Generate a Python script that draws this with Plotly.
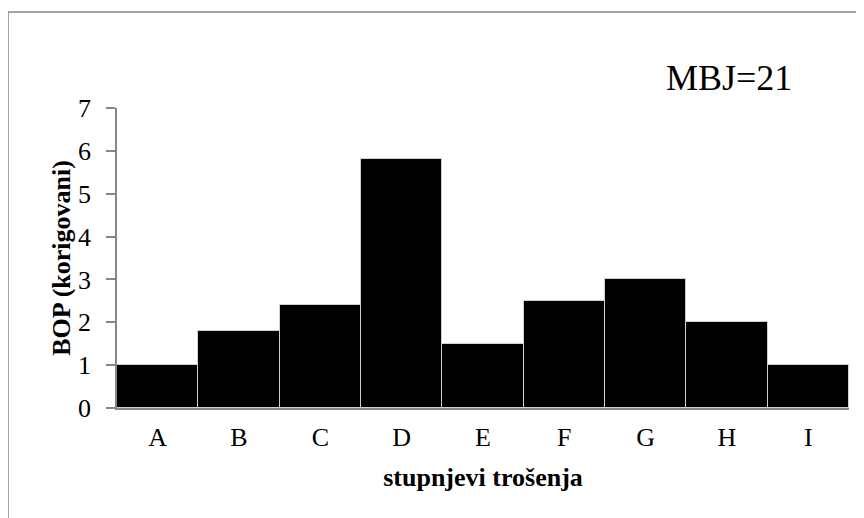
import plotly.graph_objects as go

categories = ["A", "B", "C", "D", "E", "F", "G", "H", "I"]
values = [1.0, 1.8, 2.4, 5.8, 1.5, 2.5, 3.0, 2.0, 1.0]
y_ticks = [0, 1, 2, 3, 4, 5, 6, 7]

# page body has an 8px margin; work in figure coordinates = screen - 8
OFF = 8
W, H = 864 - OFF, 518 - OFF
L, R, T, B = 117 - OFF, 15, 108 - OFF, 110
pw, ph = W - L - R, H - T - B

def px(x):
    return (x - OFF - L) / pw

def py(y):
    return (H - B - (y - OFF)) / ph

FONT = "Liberation Serif"
GRAY = "#868686"

fig = go.Figure(go.Bar(
    x=categories, y=values,
    marker=dict(color="black", line=dict(color="#d0d0d0", width=1)),
))

fig.update_layout(
    width=W, height=H,
    margin=dict(l=L, r=R, t=T, b=B),
    paper_bgcolor="white", plot_bgcolor="white",
    bargap=0, showlegend=False,
    font=dict(family=FONT, size=26, color="black"),
    xaxis=dict(
        showline=True, linecolor=GRAY, linewidth=1.5,
        ticks="", showgrid=False, ticklabelstandoff=5,
        tickfont=dict(family=FONT, size=26),
        title=dict(text="<b>stupnjevi trošenja</b>", font=dict(family=FONT, size=26), standoff=17),
    ),
    yaxis=dict(
        range=[0, 7], tickvals=y_ticks, showline=True, linecolor=GRAY, linewidth=1.5,
        ticks="outside", ticklen=9, tickcolor=GRAY, tickwidth=1.5,
        showgrid=False, zeroline=False, ticklabelstandoff=10,
        tickfont=dict(family=FONT, size=26),
        title=dict(text="<b>BOP (korigovani)</b>", font=dict(family=FONT, size=26), standoff=0),
    ),
    annotations=[dict(
        text="MBJ=21", xref="paper", yref="paper", x=px(729), y=py(78),
        xanchor="center", yanchor="middle", showarrow=False,
        font=dict(family=FONT, size=36, color="black"),
    )],
    shapes=[
        dict(type="line", xref="paper", yref="paper", x0=px(8), x1=px(864), y0=py(12), y1=py(12),
             line=dict(color=GRAY, width=1.5)),
        dict(type="line", xref="paper", yref="paper", x0=px(8), x1=px(8), y0=py(12), y1=py(518),
             line=dict(color=GRAY, width=1.5)),
    ],
)

fig.write_html("out.html")
